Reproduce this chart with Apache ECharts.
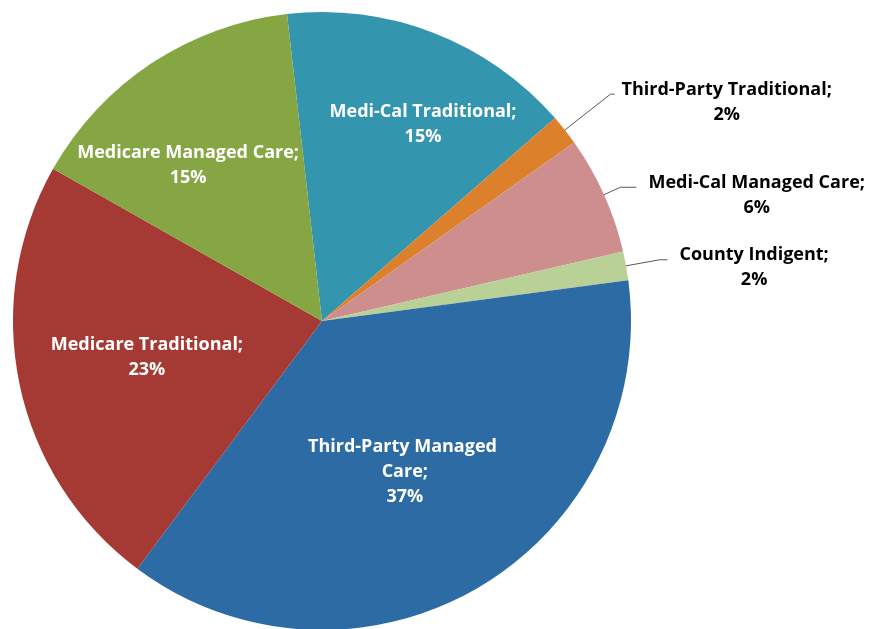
<!DOCTYPE html>
<html>
<head>
<meta charset="utf-8">
<script src="https://cdn.jsdelivr.net/npm/echarts@6/dist/echarts.min.js"></script>
<style>
  html, body { margin: 0; padding: 0; background: #fff; }
  #main { width: 871px; height: 629px; }
</style>
</head>
<body>
<div id="main"></div>
<script>
const categories = [
  "Medi-Cal Traditional",
  "Third-Party Traditional",
  "Medi-Cal Managed Care",
  "County Indigent",
  "Third-Party Managed Care",
  "Medicare Traditional",
  "Medicare Managed Care"
];
const shares = [15.4, 1.6, 6.2, 1.5, 37.3, 23.0, 15.0];
const colors = ["#3395AE", "#DD802C", "#CE8E8D", "#B9D096", "#2D6BA4", "#A53A35", "#86A543"];

// which labels sit outside the pie, with their leader line sizes [length, length2, gap]
const outsideLines = { 1: [58, 4, 7], 2: [18, 16, 12], 3: [34, 8, 12] };
// nudge for labels that sit inside slices
const insideShift = { 0: [44, -50], 4: [3, 15], 5: [-21, 4], 6: [-47, -24] };

const FONT = "'Open Sans', 'Liberation Sans', sans-serif";

const chart = echarts.init(document.getElementById("main"));

const pieData = categories.map(function (name, i) {
  const item = { name: name, value: shares[i], itemStyle: { color: colors[i] } };
  const line = outsideLines[i];
  if (line) {
    item.label = {
      position: "outside",
      distanceToLabelLine: line[2],
      padding: [16, 0, 0, 0],
      formatter: function (p) {
        return "{a|" + p.name + ";}\n{a|" + Math.round(p.value) + "%}";
      },
      rich: {
        a: { align: "center", fontFamily: FONT, fontWeight: "bold", fontSize: 18, lineHeight: 25, color: "#000" }
      }
    };
    item.labelLine = { show: true, length: line[0], length2: line[1] };
  } else {
    item.label = { position: "inside" };
    item.labelLine = { show: false };
    if (name === "Third-Party Managed Care") {
      item.label.width = 200;
      item.label.overflow = "break";
    }
  }
  return item;
});

const option = {
  animation: false,
  series: [
    {
      type: "pie",
      center: [322, 321],
      radius: 309,
      startAngle: 96.5,
      clockwise: true,
      avoidLabelOverlap: false,
      itemStyle: { borderWidth: 0 },
      emphasis: { disabled: true },
      label: {
        show: true,
        color: "#fff",
        fontFamily: FONT,
        fontWeight: "bold",
        fontSize: 18,
        lineHeight: 25,
        formatter: function (p) {
          return p.name + ";\n" + Math.round(p.value) + "%";
        }
      },
      labelLine: {
        lineStyle: { color: "#595959", width: 1 }
      },
      labelLayout: function (p) {
        const s = insideShift[p.dataIndex];
        return s ? { dx: s[0], dy: s[1] } : {};
      },
      data: pieData
    }
  ]
};

chart.setOption(option);
</script>
</body>
</html>
